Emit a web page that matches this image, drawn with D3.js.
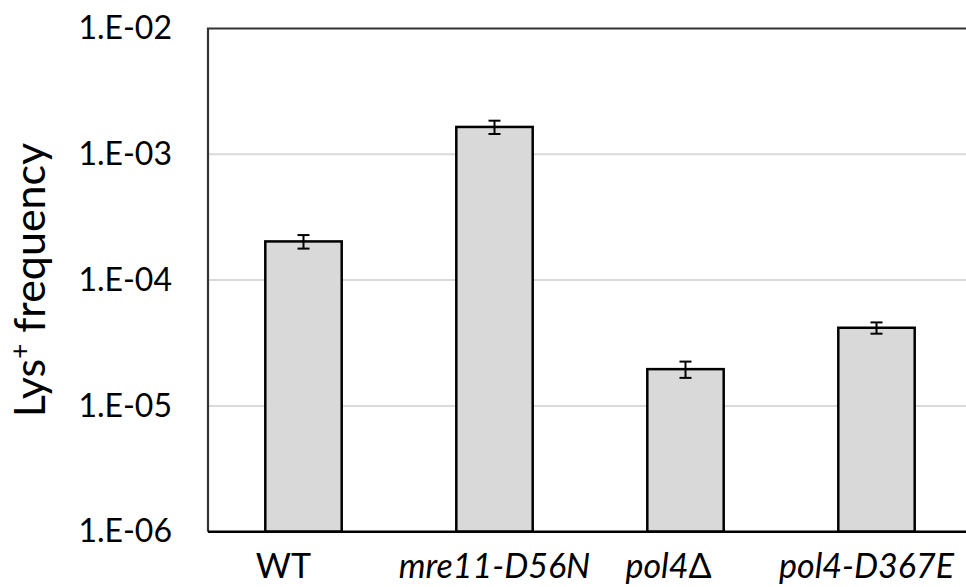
<!DOCTYPE html>
<html>
<head>
<meta charset="utf-8">
<script src="https://cdn.jsdelivr.net/npm/d3@7"></script>
<style>
  body { margin: 0; background: #fff; }
  text { font-family: Lato, "Open Sans", sans-serif; fill: #000; }
</style>
</head>
<body>
<svg id="chart" width="966" height="587"></svg>
<script>
const categories = ['WT', 'mre11-D56N', 'pol4\u0394', 'pol4-D367E'];
const italic = [false, true, true, true];
const values = [2.03e-4, 1.65e-3, 1.96e-5, 4.18e-5];
const errors = [0.25e-4, 0.2e-3, 0.29e-5, 0.43e-5];
const tickValues = [1e-6, 1e-5, 1e-4, 1e-3, 1e-2];
const tickLabels = ['1.E-06', '1.E-05', '1.E-04', '1.E-03', '1.E-02'];

// small horizontal nudges of the category labels, as in the original
const labelShift = [-20, 0, -17, -10];

const svg = d3.select('#chart');
const margin = { left: 208, top: 28.5, right: -6, bottom: 55.3 };
const width = 966 - margin.left - margin.right;
const height = 587 - margin.top - margin.bottom;

const g = svg.append('g').attr('transform', `translate(${margin.left},${margin.top})`);

const x = d3.scaleBand().domain(categories).range([0, width]).paddingInner(0.6).paddingOuter(0.3);
const y = d3.scaleLog().domain([1e-6, 1e-2]).range([height, 0]);

// gridlines
g.selectAll('.grid')
  .data(tickValues.slice(1, -1))
  .enter().append('line')
  .attr('x1', 0).attr('x2', width)
  .attr('y1', d => y(d)).attr('y2', d => y(d))
  .attr('stroke', '#d9d9d9').attr('stroke-width', 2);

// frame top + left
g.append('path')
  .attr('d', `M0,${height}V0H${width}`)
  .attr('fill', 'none').attr('stroke', '#333').attr('stroke-width', 2.2);

// bars
g.selectAll('.bar')
  .data(values)
  .enter().append('rect')
  .attr('x', (d, i) => x(categories[i]))
  .attr('width', x.bandwidth())
  .attr('y', d => y(d))
  .attr('height', d => height - y(d))
  .attr('fill', '#d9d9d9').attr('stroke', '#000').attr('stroke-width', 2.5);

// error bars
const eb = g.selectAll('.err')
  .data(values)
  .enter().append('g')
  .attr('stroke', '#000').attr('stroke-width', 2);
eb.append('line')
  .attr('x1', (d, i) => x(categories[i]) + x.bandwidth() / 2)
  .attr('x2', (d, i) => x(categories[i]) + x.bandwidth() / 2)
  .attr('y1', (d, i) => y(d + errors[i]))
  .attr('y2', (d, i) => y(d - errors[i]));
[1, -1].forEach(s => {
  eb.append('line')
    .attr('x1', (d, i) => x(categories[i]) + x.bandwidth() / 2 - 6)
    .attr('x2', (d, i) => x(categories[i]) + x.bandwidth() / 2 + 6)
    .attr('y1', (d, i) => y(d + s * errors[i]))
    .attr('y2', (d, i) => y(d + s * errors[i]));
});

// bottom axis line
g.append('line')
  .attr('x1', 0).attr('x2', width)
  .attr('y1', height).attr('y2', height)
  .attr('stroke', '#000').attr('stroke-width', 2.5);

// y tick labels
const yAxis = d3.axisLeft(y)
  .tickValues(tickValues)
  .tickFormat((d, i) => tickLabels[i])
  .tickSize(0).tickPadding(36);
g.append('g').call(yAxis)
  .call(a => a.select('.domain').remove())
  .selectAll('text')
  .style('font-size', '32px')
  .attr('font-family', null);

// x labels
const xAxis = d3.axisBottom(x).tickSize(0).tickPadding(22);
g.append('g').attr('transform', `translate(0,${height})`).call(xAxis)
  .call(a => a.select('.domain').remove())
  .selectAll('text')
  .style('font-size', '34px')
  .attr('font-family', null)
  .attr('dx', (d, i) => labelShift[i])
  .each(function (d, i) {
    const t = d3.select(this).text('');
    if (!italic[i]) { t.text(d); return; }
    const m = d.match(/^(.*?)(\u0394?)$/);
    t.append('tspan').style('font-style', 'italic').text(m[1]);
    if (m[2]) t.append('tspan').text(m[2]);
  });

// y title
svg.append('text')
  .attr('transform', 'translate(45,280) rotate(-90)')
  .attr('text-anchor', 'middle')
  .style('font-size', '43px')
  .html('Lys<tspan baseline-shift="super" font-size="26px">+</tspan> frequency');
</script>
</body>
</html>
